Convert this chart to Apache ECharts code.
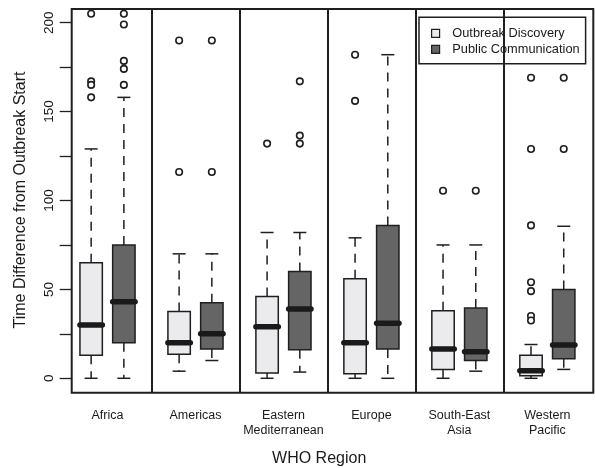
<!DOCTYPE html>
<html>
<head>
<meta charset="utf-8">
<script src="https://cdn.jsdelivr.net/npm/echarts@6/dist/echarts.min.js"></script>
<style>
  html, body { margin: 0; padding: 0; background: #fff; }
  #chart { width: 595px; height: 468px; }
</style>
</head>
<body>
<div id="chart"></div>
<script>
// regions on the x axis
var regions = ['Africa', 'Americas', 'Eastern\nMediterranean', 'Europe', 'South-East\nAsia', 'Western\nPacific'];
var seriesNames = ['Outbreak Discovery', 'Public Communication'];

// [lower whisker, Q1, median, Q3, upper whisker]
var discoveryBox = [
    [0, 13, 30, 65, 129],
    [4, 13.5, 20, 37.5, 70],
    [0, 3, 29, 46, 82],
    [0, 2.5, 20, 56, 79],
    [0, 5, 16.5, 38, 75],
    [0, 1.5, 4.3, 13, 19]
];
var communicationBox = [
    [0, 20, 43, 75, 158],
    [10, 16.5, 25, 42.5, 70],
    [3.5, 16, 39, 60, 82],
    [0, 16.5, 31, 86, 182],
    [4, 10, 15, 39.5, 75],
    [5, 11, 18.7, 50, 85.5]
];

// outliers per region
var discoveryOutliers = [
    [205, 167, 165, 158],
    [190, 116],
    [132],
    [182, 156],
    [105.5],
    [169, 129, 86, 54, 49, 35, 32.5]
];
var communicationOutliers = [
    [205, 199, 178.5, 174, 165],
    [190, 116],
    [167, 136.5, 132],
    [],
    [105.5],
    [169, 129]
];

var yTicks = [0, 25, 50, 75, 100, 125, 150, 175, 200];
var yLabels = [0, 50, 100, 150, 200];
var dividers = [1.5, 2.5, 3.5, 4.5, 5.5];

var lightFill = '#ebebed';
var darkFill = '#656565';
var ink = '#1f1f1f';
var offset = 0.186; // half distance between the two boxes of a region, in axis units

function boxData(list, shift) {
    return list.map(function (b, i) {
        return [i + 1 + shift].concat(b);
    });
}

function outlierData(list, shift) {
    var out = [];
    list.forEach(function (vals, i) {
        vals.forEach(function (v) { out.push([i + 1 + shift, v]); });
    });
    return out;
}

function renderBox(params, api) {
    var x = api.value(0);
    var low = api.coord([x, api.value(1)]);
    var q1 = api.coord([x, api.value(2)]);
    var med = api.coord([x, api.value(3)]);
    var q3 = api.coord([x, api.value(4)]);
    var high = api.coord([x, api.value(5)]);
    var cx = low[0];
    var hw = 11.2, cw = 6.5;
    var dash = { stroke: ink, lineWidth: 1.5, lineDash: [9, 7] };
    var solid = { stroke: ink, lineWidth: 1.5 };
    return {
        type: 'group',
        children: [
            { type: 'line', shape: { x1: cx, y1: q3[1], x2: cx, y2: high[1] }, style: dash },
            { type: 'line', shape: { x1: cx, y1: q1[1], x2: cx, y2: low[1] }, style: dash },
            { type: 'line', shape: { x1: cx - cw, y1: high[1], x2: cx + cw, y2: high[1] }, style: solid },
            { type: 'line', shape: { x1: cx - cw, y1: low[1], x2: cx + cw, y2: low[1] }, style: solid },
            { type: 'rect', shape: { x: cx - hw, y: q3[1], width: hw * 2, height: q1[1] - q3[1] },
              style: { fill: api.visual('color'), stroke: ink, lineWidth: 1.5 } },
            { type: 'line', shape: { x1: cx - hw, y1: med[1], x2: cx + hw, y2: med[1] },
              style: { stroke: '#1a1a1a', lineWidth: 5.5, lineCap: 'round' } }
        ]
    };
}

var chart = echarts.init(document.getElementById('chart'));

var option = {
    animation: false,
    textStyle: { fontFamily: 'Liberation Sans, Arial, sans-serif', color: '#1a1a1a' },
    grid: {
        left: 71.7, right: 1.7, top: 9, bottom: 75.3,
        show: true, borderColor: ink, borderWidth: 2, backgroundColor: 'transparent'
    },
    legend: {
        orient: 'vertical',
        left: 419, top: 17.3,
        padding: [9.5, 6, 8, 12],
        itemGap: 3,
        itemWidth: 8, itemHeight: 8,
        backgroundColor: '#fff',
        borderColor: ink, borderWidth: 1.5,
        selectedMode: false,
        textStyle: { fontSize: 12.8, color: '#1a1a1a', padding: [0, 0, 0, 7.7] },
        data: [
            { name: seriesNames[0], icon: 'rect', itemStyle: { color: lightFill, borderColor: ink, borderWidth: 1.2 } },
            { name: seriesNames[1], icon: 'rect', itemStyle: { color: darkFill, borderColor: ink, borderWidth: 1.2 } }
        ]
    },
    xAxis: {
        type: 'value',
        min: 0.593, max: 6.522,
        axisLine: { show: false },
        axisTick: { show: false },
        splitLine: { show: false },
        axisLabel: {
            customValues: [1, 2, 3, 4, 5, 6],
            formatter: function (v) { return regions[Math.round(v) - 1]; },
            fontSize: 12.5, lineHeight: 15, margin: 15, color: '#1a1a1a'
        }
    },
    yAxis: {
        type: 'value',
        min: -8.1, max: 207.7,
        axisLine: { show: false },
        splitLine: { show: false },
        axisTick: {
            show: true, customValues: yTicks, length: 12,
            lineStyle: { color: ink, width: 1.3 }
        },
        axisLabel: {
            customValues: yLabels, rotate: 90, margin: 15,
            fontSize: 13.5, color: '#1a1a1a'
        }
    },
    graphic: [
        {
            type: 'text', x: 21, y: 200, rotation: Math.PI / 2,
            style: { text: 'Time Difference from Outbreak Start', fontSize: 16, fill: '#1a1a1a',
                     align: 'center', verticalAlign: 'middle', fontFamily: 'Liberation Sans, Arial, sans-serif' }
        },
        {
            type: 'text', x: 319.2, y: 459,
            style: { text: 'WHO Region', fontSize: 16, fill: '#1a1a1a',
                     align: 'center', verticalAlign: 'middle', fontFamily: 'Liberation Sans, Arial, sans-serif' }
        }
    ],
    series: [
        {
            name: seriesNames[0], type: 'custom',
            itemStyle: { color: lightFill },
            renderItem: renderBox,
            encode: { x: 0, y: [1, 2, 3, 4, 5] },
            data: boxData(discoveryBox, -offset),
            z: 3
        },
        {
            name: seriesNames[1], type: 'custom',
            itemStyle: { color: darkFill },
            renderItem: renderBox,
            encode: { x: 0, y: [1, 2, 3, 4, 5] },
            data: boxData(communicationBox, offset),
            z: 3
        },
        {
            name: 'outliers', type: 'scatter',
            symbol: 'circle', symbolSize: 6.5,
            itemStyle: { color: '#fff', borderColor: ink, borderWidth: 1.6, opacity: 1 },
            data: outlierData(discoveryOutliers, -offset).concat(outlierData(communicationOutliers, offset)),
            z: 3,
            markLine: {
                silent: true, symbol: 'none',
                label: { show: false },
                lineStyle: { color: ink, width: 2, type: 'solid' },
                data: dividers.map(function (d) { return { xAxis: d }; })
            }
        }
    ]
};

chart.setOption(option);
</script>
</body>
</html>
